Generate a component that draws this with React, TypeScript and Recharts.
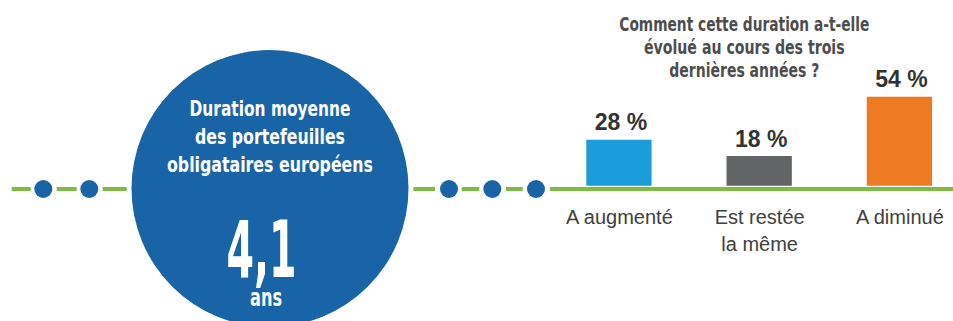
import { BarChart, Bar, XAxis, YAxis, Cell, LabelList } from "recharts";

const categories = ["A augmenté", "Est restée\nla même", "A diminué"];
const shares = [28, 18, 54];
const barColors = ["#1b9dd9", "#636466", "#ee7a22"];
const titleLines = [
  "Comment cette duration a-t-elle",
  "évolué au cours des trois",
  "dernières années ?",
];
const circleLines = ["Duration moyenne", "des portefeuilles", "obligataires européens"];
const durationValue = "4,1";
const durationUnit = "ans";

const data = categories.map((category, i) => ({
  category,
  share: shares[i],
  color: barColors[i],
}));

const GREEN = "#7dbb42";
const CIRCLE_BLUE = "#1864a6";
const NARROW = "'Liberation Sans Narrow', 'DejaVu Sans Condensed', 'Liberation Sans', sans-serif";
const SANS = "'Liberation Sans', Arial, sans-serif";

const CategoryTick = ({ x, y, payload }: any) => {
  const lines = String(payload.value).split("\n");
  return (
    <g>
      {lines.map((line, i) => (
        <text
          key={i}
          x={x}
          y={y + 30.5 + i * 27}
          textAnchor="middle"
          fill="#404040"
          fontFamily={SANS}
          fontSize={20}
        >
          {line}
        </text>
      ))}
    </g>
  );
};

const ShareLabel = ({ x, y, width, value }: any) => (
  <text
    x={x + width / 2 + 2}
    y={y - 9.5}
    textAnchor="middle"
    fill="#333333"
    fontFamily={SANS}
    fontWeight="bold"
    fontSize={23}
  >
    {value} %
  </text>
);

function Decor() {
  // dashed line with dots either side of the circle
  const dashes = [
    [11.7, 30.7], [56.7, 76.7], [102.7, 126.7],
    [413.3, 435], [461.7, 479.3], [506, 522.7], [550, 953],
  ];
  const dots = [43.3, 89.3, 449, 492.3, 536];
  const lineY = 189;
  const cx = 270;
  const cy = 188.5;
  return (
    <svg width={953} height={321} style={{ position: "absolute", left: 0, top: 0 }}>
      {dashes.map(([a, b], i) => (
        <line key={i} x1={a} x2={b} y1={lineY} y2={lineY} stroke={GREEN} strokeWidth={4} />
      ))}
      {dots.map((d, i) => (
        <circle key={i} cx={d} cy={lineY} r={9} fill={CIRCLE_BLUE} />
      ))}
      <circle cx={cx} cy={cy} r={138.5} fill={CIRCLE_BLUE} />
      {circleLines.map((line, i) => (
        <text
          key={i}
          x={cx}
          y={116 + i * 28}
          textAnchor="middle"
          fill="#ffffff"
          fontFamily={NARROW}
          fontWeight="bold"
          fontSize={20.5}
          textLength={[161, 150, 206][i]}
          lengthAdjust="spacingAndGlyphs"
        >
          {line}
        </text>
      ))}
      <text
        x={cx - 8.5}
        y={277}
        textAnchor="middle"
        fill="#ffffff"
        fontFamily={NARROW}
        fontWeight="bold"
        fontSize={78}
        textLength={70}
        lengthAdjust="spacingAndGlyphs"
      >
        {durationValue}
      </text>
      <text
        x={cx - 4}
        y={305.7}
        textAnchor="middle"
        fill="#ffffff"
        fontFamily={NARROW}
        fontWeight="bold"
        fontSize={25}
        textLength={32}
        lengthAdjust="spacingAndGlyphs"
      >
        {durationUnit}
      </text>
      {titleLines.map((line, i) => (
        <text
          key={i}
          x={744.3}
          y={30.7 + i * 23}
          textAnchor="middle"
          fill="#4d4d4d"
          fontFamily={NARROW}
          fontWeight="bold"
          fontSize={19.3}
          textLength={[250, 200.7, 150][i]}
          lengthAdjust="spacingAndGlyphs"
        >
          {line}
        </text>
      ))}
    </svg>
  );
}

export default function App() {
  return (
    <div
      style={{
        position: "absolute",
        left: 0,
        top: 0,
        width: 953,
        height: 321,
        overflow: "hidden",
        background: "#ffffff",
      }}
    >
      <Decor />
      <div style={{ position: "absolute", left: 0, top: 0 }}>
        <BarChart
          width={970}
          height={321}
          data={data}
          margin={{ top: 87, right: 0, left: 549.3, bottom: 35.3 }}
          barSize={65.3}
        >
          <XAxis
            dataKey="category"
            height={100}
            axisLine={false}
            tickLine={false}
            interval={0}
            tick={<CategoryTick />}
          />
          <YAxis hide domain={[0, 60]} />
          <Bar dataKey="share" isAnimationActive={false}>
            {data.map((d, i) => (
              <Cell key={i} fill={d.color} />
            ))}
            <LabelList dataKey="share" content={<ShareLabel />} />
          </Bar>
        </BarChart>
      </div>
    </div>
  );
}
